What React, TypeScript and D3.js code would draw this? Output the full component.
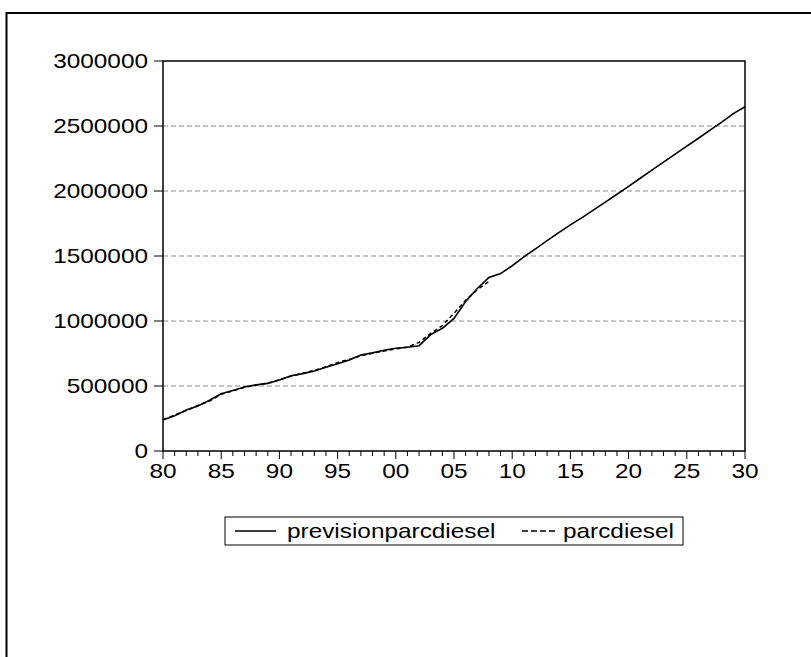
import React from "react";
import * as d3 from "d3";

const years: number[] = d3.range(1980, 2031);

const previsionparcdiesel: number[] = [
  238000, 272000, 315000, 346000, 390000, 440000, 465000, 492000, 510000, 520000,
  546000, 579000, 595000, 615000, 644000, 672000, 700000, 738000, 755000, 775000,
  790000, 798000, 810000, 895000, 944000, 1020000, 1150000, 1250000, 1335000, 1365000,
  1425000, 1494000, 1555000, 1618000, 1680000, 1740000, 1795000, 1855000, 1915000, 1975000,
  2035000, 2098000, 2160000, 2222000, 2283000, 2345000, 2406000, 2468000, 2530000, 2595000,
  2648000,
];

const parcdiesel: number[] = [
  242000, 276000, 312000, 350000, 385000, 436000, 462000, 490000, 505000, 522000,
  548000, 575000, 598000, 620000, 648000, 680000, 705000, 732000, 752000, 770000,
  785000, 800000, 835000, 905000, 965000, 1060000, 1160000, 1240000, 1305000,
];

const yTicks: number[] = [0, 500000, 1000000, 1500000, 2000000, 2500000, 3000000];
const xMajorTicks: number[] = [1980, 1985, 1990, 1995, 2000, 2005, 2010, 2015, 2020, 2025, 2030];
const seriesNames: string[] = ["previsionparcdiesel", "parcdiesel"];

const FONT = "'Liberation Sans', Arial, sans-serif";
const SX = 1.16;

export default function App() {
  const left = 163, right = 745, top = 61, bottom = 451;
  const x = d3.scaleLinear().domain([1980, 2030]).range([left, right]);
  const y = d3.scaleLinear().domain([0, 3000000]).range([bottom, top]);

  const line = d3.line<number>()
    .x((_, i) => x(years[i]))
    .y((d) => y(d));

  const label = (tx: number, ty: number, text: string, anchor: string, key: string) => (
    <text
      key={key}
      transform={`translate(${tx},${ty}) scale(${SX},1)`}
      textAnchor={anchor as any}
      fontFamily={FONT}
      fontSize={21}
      fill="#000"
    >
      {text}
    </text>
  );

  return (
    <svg
      width={811}
      height={657}
      style={{ position: "fixed", left: 0, top: 0, background: "#fff" }}
    >
      <rect x={0} y={0} width={811} height={657} fill="#fff" />
      {/* outer frame */}
      <rect x={6.5} y={13} width={900} height={900} fill="none" stroke="#000" strokeWidth={2} />

      {/* grid lines */}
      {yTicks.filter((t) => t > 0 && t < 3000000).map((t) => (
        <line
          key={"g" + t}
          x1={left}
          x2={right}
          y1={y(t)}
          y2={y(t)}
          stroke="#8c8c8c"
          strokeWidth={1}
          strokeDasharray="5,3"
        />
      ))}

      {/* plot frame */}
      <rect x={left} y={top} width={right - left} height={bottom - top} fill="none" stroke="#000" strokeWidth={1.5} />

      {/* y ticks + labels */}
      {yTicks.map((t) => (
        <g key={"y" + t}>
          <line x1={left - 9} x2={left} y1={y(t)} y2={y(t)} stroke="#000" strokeWidth={1} />
          {label(148, y(t) + 7, String(t), "end", "yl" + t)}
        </g>
      ))}

      {/* x ticks */}
      {years.map((yr) => {
        const major = xMajorTicks.includes(yr);
        return (
          <line
            key={"xt" + yr}
            x1={x(yr)}
            x2={x(yr)}
            y1={bottom}
            y2={bottom + (major ? 8 : 5)}
            stroke="#000"
            strokeWidth={1}
          />
        );
      })}
      {xMajorTicks.map((yr) => label(x(yr), 478, String(yr % 100).padStart(2, "0"), "middle", "xl" + yr))}

      {/* series */}
      <path d={line(parcdiesel) || ""} fill="none" stroke="#000" strokeWidth={1.5} strokeDasharray="4,3" />
      <path d={line(previsionparcdiesel) || ""} fill="none" stroke="#000" strokeWidth={1.6} />

      {/* legend */}
      <rect x={225} y={517} width={458} height={28} fill="#fff" stroke="#000" strokeWidth={1} />
      <line x1={235} x2={276} y1={531} y2={531} stroke="#000" strokeWidth={1.5} />
      {label(287, 538, seriesNames[0], "start", "lg0")}
      <line x1={522} x2={556} y1={531} y2={531} stroke="#000" strokeWidth={1.5} strokeDasharray="6,3" />
      {label(563, 538, seriesNames[1], "start", "lg1")}
    </svg>
  );
}
